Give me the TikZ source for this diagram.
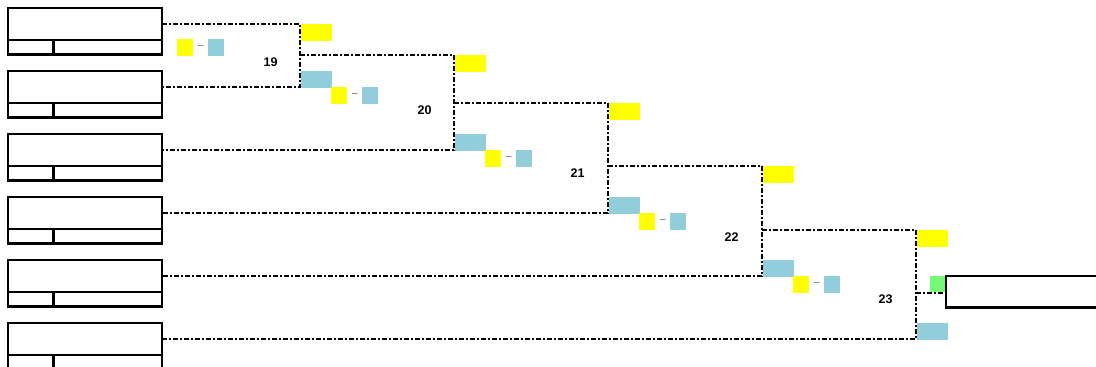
\documentclass[tikz,border=0pt]{standalone}
\usepackage{fontspec}
\setmainfont{Liberation Sans}
\definecolor{seedyellow}{HTML}{FFFF00}
\definecolor{seedblue}{HTML}{92CDDC}
\definecolor{wingreen}{HTML}{75FA78}
\begin{document}
\begin{tikzpicture}[x=1pt,y=-1pt,
  player/.style={draw, line width=2.2pt, rectangle, anchor=north west, minimum width=154pt, minimum height=46.5pt, inner sep=0pt, outer sep=0pt},
  winbox/.style={draw, line width=2.2pt, rectangle, anchor=north west, minimum width=200pt, minimum height=31.5pt, inner sep=0pt, outer sep=0pt},
  boxline/.style={line width=2.2pt},
  conn/.style={line width=2pt, dash pattern=on 5pt off 2pt on 2pt off 2pt},
  bigY/.style={fill=seedyellow, rectangle, minimum width=31pt, minimum height=17pt, inner sep=0pt, outer sep=0pt, anchor=north west},
  bigB/.style={fill=seedblue, rectangle, minimum width=31pt, minimum height=17pt, inner sep=0pt, outer sep=0pt, anchor=south west},
  smallY/.style={fill=seedyellow, rectangle, minimum width=16pt, minimum height=17pt, inner sep=0pt, outer sep=0pt, anchor=north west},
  smallB/.style={fill=seedblue, rectangle, minimum width=16pt, minimum height=17pt, inner sep=0pt, outer sep=0pt, anchor=north west},
  sep/.style={text=gray!70!black, font=\fontsize{10}{10}\selectfont, inner sep=0pt},
  matchno/.style={font=\fontsize{12.5}{12.5}\selectfont\bfseries, inner sep=0pt}
]
\useasboundingbox (0,0) rectangle (1096,367);

% player boxes
\foreach \k in {1,...,6}{
  \node[player] (p\k) at (8,{8+63*(\k-1)}) {};
  \draw[boxline] ([yshift=-32pt]p\k.north west) -- ([yshift=-32pt]p\k.north east);
  \draw[boxline] ([xshift=45.5pt,yshift=-32pt]p\k.north west) -- ([xshift=45.5pt]p\k.south west);
  \coordinate (o\k) at ([yshift=-16pt]p\k.north east);
}

% winner box
\node[winbox] (win) at (946,276) {};
\node[fill=wingreen, rectangle, minimum width=15pt, minimum height=16pt, inner sep=0pt, outer sep=0pt, anchor=north west] (g) at (930,276) {};

% bracket corners
\coordinate (t19) at (300,24);  \coordinate (b19) at (300,87);
\coordinate (t20) at (454,55);  \coordinate (b20) at (454,150);
\coordinate (t21) at (608,103); \coordinate (b21) at (608,213);
\coordinate (t22) at (762,166); \coordinate (b22) at (762,276);
\coordinate (t23) at (916,230); \coordinate (b23) at (916,339);

% seed markers
\node[bigY] (y19) at (301,24) {};  \node[bigB] (c19) at (301,88) {};
\node[bigY] (y20) at (455,55) {};  \node[bigB] (c20) at (455,151) {};
\node[bigY] (y21) at (609,103) {}; \node[bigB] (c21) at (609,214) {};
\node[bigY] (y22) at (763,166) {}; \node[bigB] (c22) at (763,277) {};
\node[bigY] (y23) at (917,230) {}; \node[bigB] (c23) at (917,340) {};

% connectors
\draw[conn] (o1) -- (t19) -- (b19) -- (o2);
\draw[conn] (t19|-t20) -- (t20);
\draw[conn] (t20) -- (b20) -- (o3);
\draw[conn] (t20|-t21) -- (t21);
\draw[conn] (t21) -- (b21) -- (o4);
\draw[conn] (t21|-t22) -- (t22);
\draw[conn] (t22) -- (b22) -- (o5);
\draw[conn] (t22|-t23) -- (t23);
\draw[conn] (t23) -- (b23) -- (o6);
\draw[conn] ([yshift=-1pt]t23|-win.west) -- ([yshift=-1pt]win.west);

% score pairs and match numbers
\foreach \n/\x/\y/\lx/\ly in {19/177/39/270.5/62.5, 20/331/87/424.5/110, 21/485/150/577.5/173, 22/639/213/731.5/237, 23/793/276/885.5/299.5}{
  \node[smallY] (sy\n) at (\x,\y) {};
  \node[smallB] (sb\n) at ({\x+31},\y) {};
  \node[sep] (sd\n) at ({\x+24},{\y+8.5}) {–};
  \node[matchno] (m\n) at (\lx,\ly) {\n};
}
\end{tikzpicture}
\end{document}
